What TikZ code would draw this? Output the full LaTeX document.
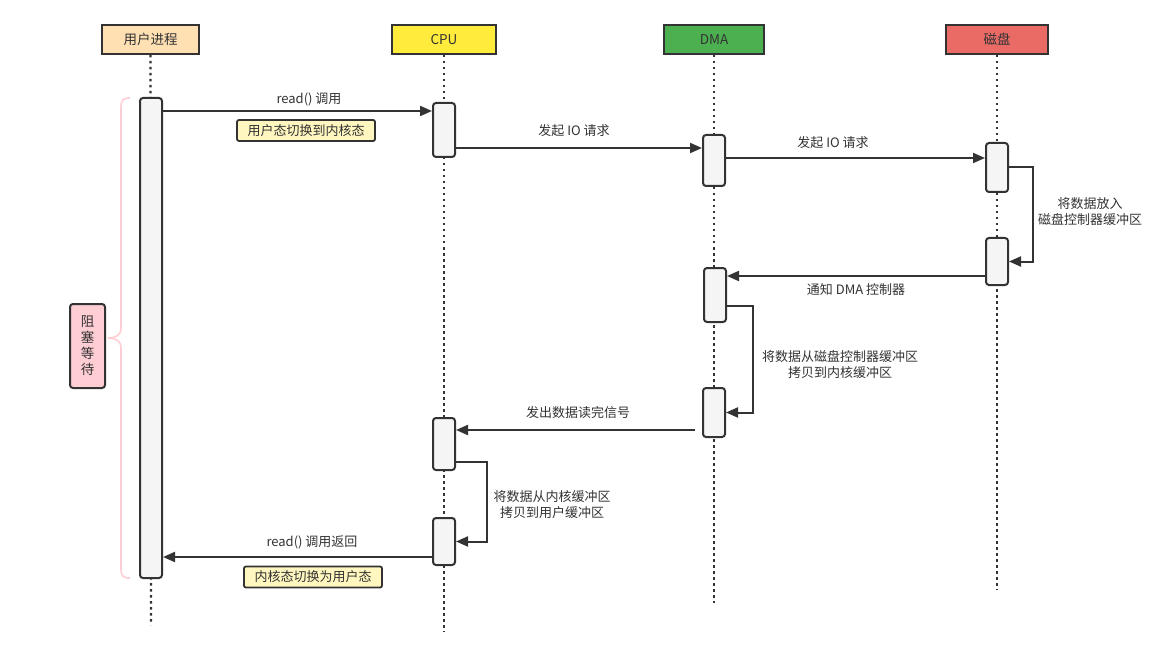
\documentclass[tikz,border=0pt]{standalone}
\usepackage{fontspec}
\setmainfont{Noto Sans CJK SC}
\usetikzlibrary{arrows.meta,calc}
\definecolor{txt}{HTML}{333333}
\definecolor{edge}{HTML}{333333}
\definecolor{userc}{HTML}{FFE0B3}
\definecolor{cpuc}{HTML}{FFEB3B}
\definecolor{dmac}{HTML}{4CAF50}
\definecolor{diskc}{HTML}{EA6B66}
\definecolor{notec}{HTML}{FFF7BF}
\definecolor{blockc}{HTML}{FFCDD4}
\definecolor{bracec}{HTML}{FFCDD4}
\definecolor{actc}{HTML}{F5F5F5}
\tikzset{
  head/.style={draw=edge,line width=2pt,minimum width=#1,minimum height=29pt,inner sep=0pt,font=\fontsize{13.5}{15}\selectfont,text=txt},
  act/.style={draw=edge,line width=2pt,fill=actc,rounded corners=3pt,minimum width=22pt,minimum height=#1,inner sep=0pt},
  life/.style={edge,line width=2.2pt,dash pattern=on 2.5pt off 3.5pt},
  arr/.style={edge,line width=2pt,-{Triangle[length=12pt,width=10pt]}},
  lbl/.style={font=\fontsize{13}{16}\selectfont,text=txt,inner sep=0pt,align=center},
  note/.style={draw=edge,line width=1.8pt,fill=notec,rounded corners=2pt,minimum width=138pt,minimum height=21pt,inner sep=0pt,font=\fontsize{13}{14}\selectfont,text=txt}
}
\begin{document}
\begin{tikzpicture}[x=1pt,y=-1pt]
\useasboundingbox[fill=white] (0,0) rectangle (1174,660);
% headers
\node[head=97pt,fill=userc] (hu) at (150.5,39.5) {用户进程};
\node[head=104pt,fill=cpuc] (hc) at (444,39.5) {CPU};
\node[head=100pt,fill=dmac] (hd) at (714,39.5) {DMA};
\node[head=102pt,fill=diskc] (hk) at (997,39.5) {磁盘};
% lifeline ends
\coordinate (eu) at (151,625);
\coordinate (ec) at (444,632);
\coordinate (ed) at (714,603);
\coordinate (ek) at (997,590);
\draw[life] (hu.south) -- (eu);
\draw[life] (hc.south) -- (ec);
\draw[life] (hd.south) -- (ed);
\draw[life] (hk.south) -- (ek);
% activations
\node[act=480pt] (u) at (151,338) {};
\node[act=54pt] (c1) at (444,130) {};
\node[act=51pt] (dm1) at (714,160.5) {};
\node[act=49pt] (dk1) at (997,167.5) {};
\node[act=47pt] (dk2) at (997,261.5) {};
\node[act=54pt] (dm2) at (715,295) {};
\node[act=49pt] (dm3) at (714,412.5) {};
\node[act=52pt] (c2) at (444,444) {};
\node[act=47pt] (c3) at (444,541.5) {};
% messages
\coordinate (a1) at ([yshift=19pt]c1.west);
\draw[arr] (u.east |- a1) -- (a1);
\node[lbl] (l1) at (309,99.5) {read() 调用};
\node[note] (n1) at (306,130.5) {用户态切换到内核态};
\draw[arr] ([yshift=-18pt]c1.east) -- ([yshift=-18pt]c1.east -| dm1.west);
\node[lbl] (l2) at (574,131) {发起 IO 请求};
\draw[arr] ([yshift=2.5pt]dm1.east) -- ([yshift=2.5pt]dm1.east -| dk1.west);
\node[lbl] (l3) at (833,143) {发起 IO 请求};
\draw[arr] (dk1.east) -- ++(24,0) |- (dk2.east);
\node[lbl] (l4) at (1090,212) {将数据放入\\磁盘控制器缓冲区};
\draw[arr] ([yshift=-14.5pt]dk2.west) -- ([yshift=-14.5pt]dk2.west -| dm2.east);
\node[lbl] (l5) at (856,290) {通知 DMA 控制器};
\draw[arr] ([yshift=-11pt]dm2.east) -- ++(26,0) |- (dm3.east);
\node[lbl] (l6) at (840,365) {将数据从磁盘控制器缓冲区\\拷贝到内核缓冲区};
\draw[arr,shorten <=7pt] ([yshift=-17.5pt]dm3.west) -- ([yshift=-17.5pt]dm3.west -| c2.east);
\node[lbl] (l7) at (578,413) {发出数据读完信号};
\draw[arr] ([yshift=-18pt]c2.east) -- ++(31,0) |- (c3.east);
\node[lbl] (l8) at (552,505) {将数据从内核缓冲区\\拷贝到用户缓冲区};
\draw[arr] ([yshift=-15.5pt]c3.west) -- ([yshift=-15.5pt]c3.west -| u.east);
\node[lbl] (l9) at (312,542) {read() 调用返回};
\node[note] (n2) at (313,577) {内核态切换为用户态};
% brace
\draw[bracec,line width=1.6pt] (130,98) .. controls (123,98) and (121,100) .. (121,108) -- (121,328) .. controls (121,335) and (116,338) .. (108,338) .. controls (116,338) and (121,341) .. (121,348) -- (121,568) .. controls (121,576) and (123,578) .. (130,578);
\node[draw=edge,line width=2pt,fill=blockc,rounded corners=3pt,minimum width=35pt,minimum height=84pt,inner sep=0pt,align=center,font=\fontsize{13.5}{16}\selectfont,text=txt] (blk) at (87.5,346) {阻\\塞\\等\\待};
\end{tikzpicture}
\end{document}
